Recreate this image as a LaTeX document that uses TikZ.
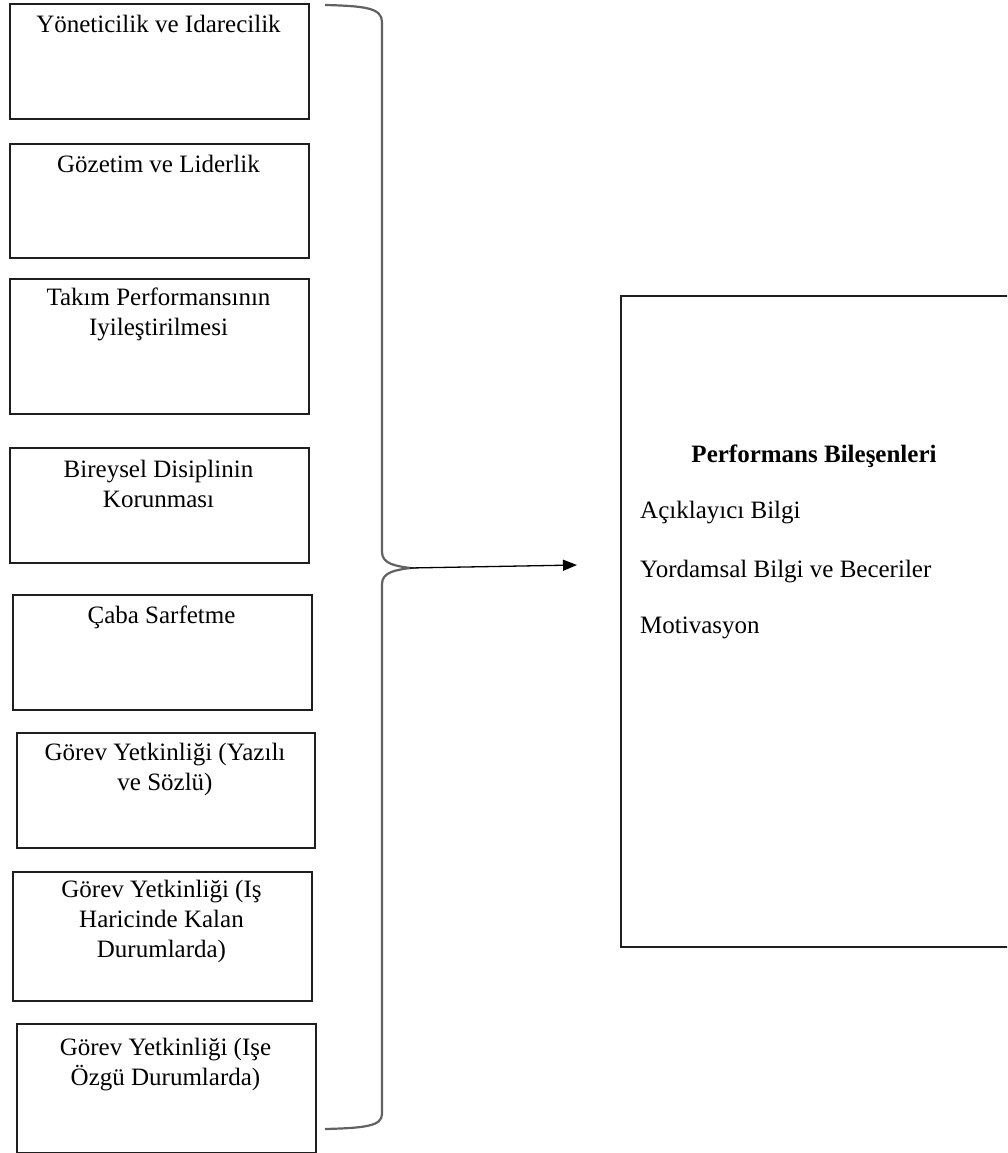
\documentclass[tikz,border=0pt]{standalone}
\usepackage{fontspec}
\setmainfont{Liberation Serif}
\usetikzlibrary{arrows.meta}
% text size used throughout the chart
\newcommand\chartfont{\fontsize{25}{30}\selectfont}
% centred multi-line label whose baseline is its first line
\newcommand\boxlines[1]{\begin{tabular}[t]{@{}c@{}}#1\end{tabular}}

\begin{document}
\begin{tikzpicture}[x=1pt,y=-1pt,
  box/.style={draw=black!88, line width=1.8pt, anchor=north west,
    minimum width=299pt, inner sep=0pt},
  boxtext/.style={font=\chartfont, anchor=base, inner sep=0pt},
  itemtext/.style={font=\chartfont, anchor=base west, inner sep=0pt},
  bracestyle/.style={draw=black!62, line width=2.2pt},
  link/.style={draw=black, line width=1.3pt, -{Triangle[length=14pt,width=11pt]}}]

\useasboundingbox (0,0) rectangle (1007,1153);
\clip (0,0) rectangle (1007,1153);

% ---- dimension boxes (left column) ----
\node[box, minimum height=115pt] (b1) at (9,3) {};
\node[boxtext] (t1) at (158.5,33) {\boxlines{Yöneticilik ve Idarecilik}};

\node[box, minimum height=114pt] (b2) at (9,143) {};
\node[boxtext] (t2) at (158.5,172) {\boxlines{Gözetim ve Liderlik}};

\node[box, minimum height=135pt] (b3) at (9,278) {};
\node[boxtext] (t3) at (158.5,305) {\boxlines{Takım Performansının\\Iyileştirilmesi}};

\node[box, minimum height=115pt] (b4) at (9,447) {};
\node[boxtext] (t4) at (158.5,477) {\boxlines{Bireysel Disiplinin\\Korunması}};

\node[box, minimum height=115pt] (b5) at (12,594) {};
\node[boxtext] (t5) at (161.5,623) {\boxlines{Çaba Sarfetme}};

\node[box, minimum height=115pt, minimum width=298pt] (b6) at (16,732) {};
\node[boxtext] (t6) at (165,760) {\boxlines{Görev Yetkinliği (Yazılı\\ve Sözlü)}};

\node[box, minimum height=129pt] (b7) at (12,871) {};
\node[boxtext] (t7) at (161.5,897) {\boxlines{Görev Yetkinliği (Iş\\Haricinde Kalan\\Durumlarda)}};

\node[box, minimum height=129pt] (b8) at (16,1023) {};
\node[boxtext] (t8) at (165.5,1055) {\boxlines{Görev Yetkinliği (Işe\\Özgü Durumlarda)}};

% ---- brace gathering all dimensions ----
\coordinate (tip) at (410,568);
\coordinate (arrowend) at (577,565);
\path[bracestyle]
  (325,5) .. controls (365,6) and (382,8) .. (382,22)
  -- (382,552) .. controls (382,564) and (396,566) .. (tip)
  .. controls (396,570) and (382,572) .. (382,584)
  -- (382,1114) .. controls (382,1126) and (365,1128) .. (325,1129);

\draw[link] (tip) -- (arrowend);

% ---- performance components box ----
\node[draw=black!88, line width=1.8pt, anchor=north west, inner sep=0pt,
  minimum width=400pt, minimum height=651pt] (pc) at (620,295) {};
\node[boxtext, font=\chartfont\bfseries] (pch) at (814,462) {Performans Bileşenleri};
\node[itemtext] (pc1) at (640,518) {Açıklayıcı Bilgi};
\node[itemtext] (pc2) at (640,577) {Yordamsal Bilgi ve Beceriler};
\node[itemtext] (pc3) at (640,633) {Motivasyon};

\end{tikzpicture}
\end{document}
